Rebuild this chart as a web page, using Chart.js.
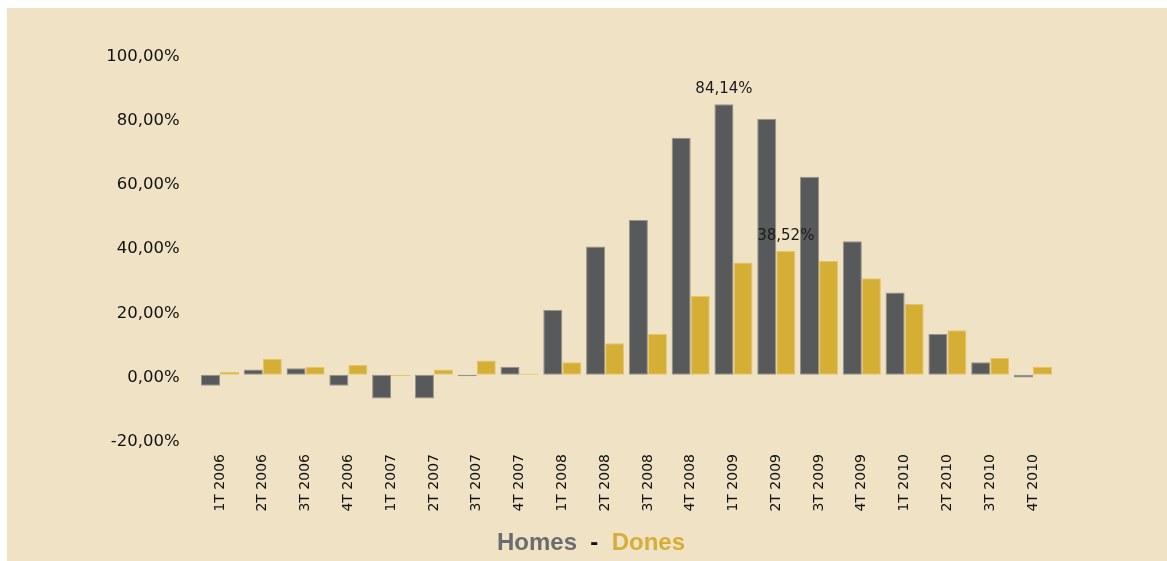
<!DOCTYPE html>
<html>
<head>
<meta charset="utf-8">
<script src="https://cdn.jsdelivr.net/npm/chart.js@4.4.1/dist/chart.umd.min.js"></script>
<style>
  html, body { margin: 0; padding: 0; background: #ffffff; width: 1167px; height: 561px; overflow: hidden; }
  #bg { position: absolute; left: 7px; top: 8px; right: 0; bottom: 0; background: #f0e3c5; }
  #wrap { position: absolute; left: 0; top: 0; width: 1167px; height: 561px; }
  #legend { position: absolute; left: 497px; top: 528px; font-family: "Liberation Sans", Arial, sans-serif; font-weight: bold; font-size: 24px; white-space: pre; line-height: 28px; }
</style>
</head>
<body>
<div id="bg"></div>
<div id="wrap"><canvas id="c" width="1167" height="561"></canvas></div>
<div id="legend"><span style="color:#6b6c6e">Homes</span><span style="color:#111">  -  </span><span style="color:#d6ad37">Dones</span></div>
<script>
const categories = ['1T 2006','2T 2006','3T 2006','4T 2006','1T 2007','2T 2007','3T 2007','4T 2007',
  '1T 2008','2T 2008','3T 2008','4T 2008','1T 2009','2T 2009','3T 2009','4T 2009',
  '1T 2010','2T 2010','3T 2010','4T 2010'];
const homes = [-3.4, 1.6, 2.0, -3.4, -7.4, -7.4, -0.5, 2.5, 20.1, 39.9, 48.1, 73.7, 84.14, 79.6, 61.6, 41.5, 25.6, 12.7, 3.9, -0.9];
const dones = [0.9, 5.0, 2.5, 3.0, -0.5, 1.6, 4.4, 0.4, 3.9, 9.8, 12.7, 24.5, 34.9, 38.52, 35.4, 30.0, 22.1, 13.8, 5.3, 2.5];
const yTicks = [-20, 0, 20, 40, 60, 80, 100];
// labelled bars: [datasetIndex, categoryIndex]
const labelledBars = [[0, 12], [1, 13]];

const fmt = v => v.toFixed(2).replace('.', ',') + '%';

const valueLabels = {
  id: 'valueLabels',
  afterDatasetsDraw(chart) {
    const ctx = chart.ctx;
    ctx.save();
    ctx.font = '15px "DejaVu Sans", sans-serif';
    ctx.fillStyle = '#1a1a1a';
    ctx.textAlign = 'center';
    ctx.textBaseline = 'alphabetic';
    labelledBars.forEach(([d, i]) => {
      const el = chart.getDatasetMeta(d).data[i];
      const v = chart.data.datasets[d].data[i];
      ctx.fillText(fmt(v), el.x, el.y - 11);
    });
    ctx.restore();
  }
};

new Chart(document.getElementById('c'), {
  type: 'bar',
  data: {
    labels: categories,
    datasets: [
      { label: 'Homes', data: homes, backgroundColor: '#58595b', borderColor: '#97938a', borderWidth: 1, borderSkipped: false },
      { label: 'Dones', data: dones, backgroundColor: '#d5ae35', borderColor: '#e4c66c', borderWidth: 1, borderSkipped: false }
    ]
  },
  options: {
    responsive: false,
    animation: false,
    layout: { padding: { left: 0, right: 112.6, top: 53.3, bottom: 0 } },
    datasets: { bar: { categoryPercentage: 0.89, barPercentage: 1.0 } },
    plugins: { legend: { display: false }, tooltip: { enabled: false }, title: { display: false } },
    scales: {
      x: {
        grid: { display: false },
        border: { display: false },
        ticks: { autoSkip: false, minRotation: 90, maxRotation: 90, padding: 7, color: '#111',
                 font: { family: '"DejaVu Sans", sans-serif', size: 14 } },
        afterFit: s => { s.height = 122; }
      },
      y: {
        min: -20, max: 100,
        grid: { display: false },
        border: { display: false },
        afterBuildTicks: s => { s.ticks = yTicks.map(v => ({ value: v })); },
        ticks: { padding: 11, labelOffset: 3, color: '#111', callback: v => fmt(v),
                 font: { family: '"DejaVu Sans", sans-serif', size: 16.5 } },
        afterFit: s => { s.width = 198.6; }
      }
    }
  },
  plugins: [valueLabels]
});
</script>
</body>
</html>
